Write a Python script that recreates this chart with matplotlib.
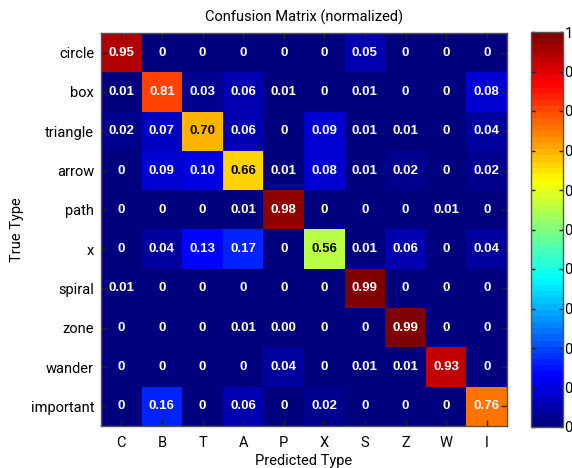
import numpy as np
import matplotlib
matplotlib.use("Agg")
import matplotlib.pyplot as plt
from matplotlib.colors import LinearSegmentedColormap

plt.rcParams['font.family'] = ['Roboto', 'DejaVu Sans']

true_types = ["circle", "box", "triangle", "arrow", "path", "x",
              "spiral", "zone", "wander", "important"]
predicted_types = ["C", "B", "T", "A", "P", "X", "S", "Z", "W", "I"]

conf = [
    [0.95, 0.00, 0.00, 0.00, 0.00, 0.00, 0.05, 0.00, 0.00, 0.00],
    [0.01, 0.81, 0.03, 0.06, 0.01, 0.00, 0.01, 0.00, 0.00, 0.08],
    [0.02, 0.07, 0.70, 0.06, 0.00, 0.09, 0.01, 0.01, 0.00, 0.04],
    [0.00, 0.09, 0.10, 0.66, 0.01, 0.08, 0.01, 0.02, 0.00, 0.02],
    [0.00, 0.00, 0.00, 0.01, 0.98, 0.00, 0.00, 0.00, 0.01, 0.00],
    [0.00, 0.04, 0.13, 0.17, 0.00, 0.56, 0.01, 0.06, 0.00, 0.04],
    [0.01, 0.00, 0.00, 0.00, 0.00, 0.00, 0.99, 0.00, 0.00, 0.00],
    [0.00, 0.00, 0.00, 0.01, 0.004, 0.00, 0.00, 0.99, 0.00, 0.00],
    [0.00, 0.00, 0.00, 0.00, 0.04, 0.00, 0.01, 0.01, 0.93, 0.00],
    [0.00, 0.16, 0.00, 0.06, 0.00, 0.02, 0.00, 0.00, 0.00, 0.76],
]

cbar_ticks = [0.0, 0.1, 0.2, 0.3, 0.4, 0.5, 0.6, 0.7, 0.8, 0.9, 1.0]
cbar_ticklabels = ["0", "0", "0", "0", "0", "0", "0", "0", "0", "0", "1"]

# MATLAB-style jet with 64 levels
jet_segments = {
    'red':   [(0.0, 0.0, 0.0), (0.375, 0.0, 0.0), (0.625, 1.0, 1.0),
              (0.875, 1.0, 1.0), (1.0, 0.5, 0.5)],
    'green': [(0.0, 0.0, 0.0), (0.125, 0.0, 0.0), (0.375, 1.0, 1.0),
              (0.625, 1.0, 1.0), (0.875, 0.0, 0.0), (1.0, 0.0, 0.0)],
    'blue':  [(0.0, 0.5, 0.5), (0.125, 1.0, 1.0), (0.375, 1.0, 1.0),
              (0.625, 0.0, 0.0), (1.0, 0.0, 0.0)],
}
jet64 = LinearSegmentedColormap('jet64', jet_segments, N=64)

fig = plt.figure(figsize=(5.72, 4.68), dpi=100)
ax = fig.add_axes([101 / 572, 1 - 426 / 468, 406 / 572, 393 / 468])
cax = fig.add_axes([531 / 572, 1 - 427 / 468, 32 / 572, 395 / 468])

M = np.array(conf)
n_rows, n_cols = M.shape
im = ax.imshow(M, cmap=jet64, vmin=0, vmax=1, aspect='auto',
               interpolation='nearest')

for i in range(n_rows):
    for j in range(n_cols):
        v = M[i, j]
        txt = "0" if v == 0 else f"{v:.2f}"
        color = 'black' if 0.5 <= v <= 0.72 else 'white'
        ax.text(j, i, txt, ha='center', va='center', fontsize=9.5,
                fontweight='bold', color=color,
                family=['Liberation Sans', 'DejaVu Sans'])

ax.set_xticks(range(n_cols))
ax.set_xticklabels(predicted_types, fontsize=10.5)
ax.set_yticks(range(n_rows))
ax.set_yticklabels(true_types, fontsize=10.5)
ax.tick_params(direction='in', top=True, right=True, length=4,
               width=1, color='#222222', pad=5)
ax.tick_params(axis='x', pad=7)
ax.set_xlabel("Predicted Type", fontsize=10.5, labelpad=3)
ax.set_ylabel("True Type", fontsize=10.5, labelpad=5)
ax.set_title("Confusion Matrix (normalized)", fontsize=10.5, pad=8)
for s in ax.spines.values():
    s.set_color('#555555')
    s.set_linewidth(1)

cb = fig.colorbar(im, cax=cax)
cb.set_ticks(cbar_ticks)
cb.set_ticklabels(cbar_ticklabels)
cax.tick_params(direction='in', length=3, width=1, labelsize=10.5,
                color='#222222', pad=1, left=True)
cb.outline.set_edgecolor('#555555')
cb.outline.set_linewidth(1)

fig.savefig("out.png", dpi=100)
